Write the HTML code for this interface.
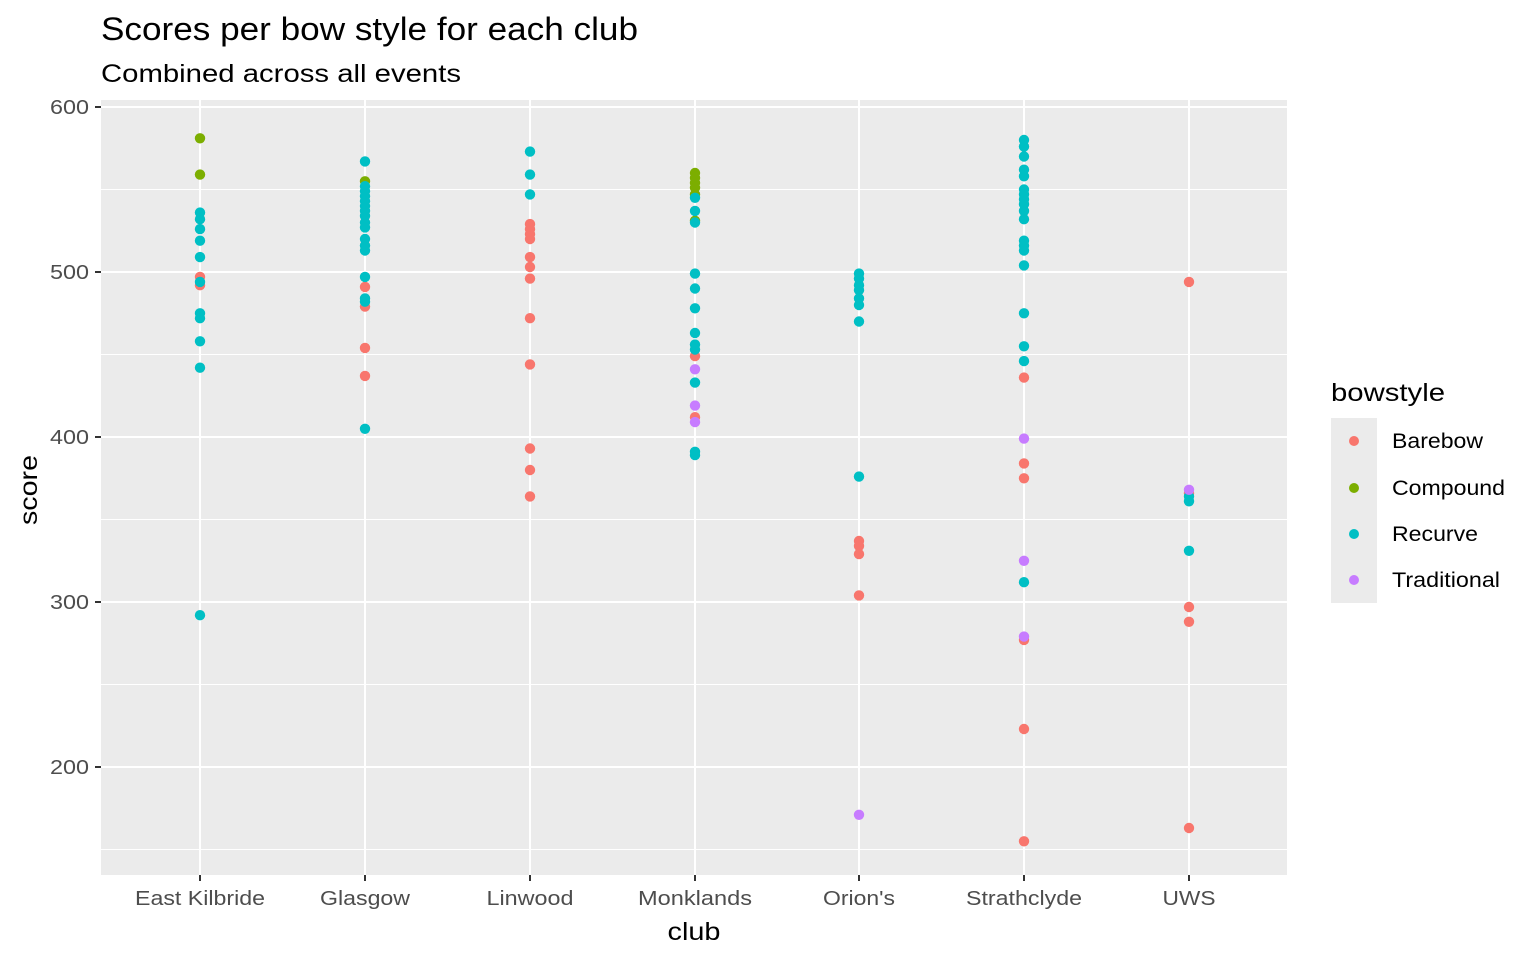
<!DOCTYPE html>
<html><head><meta charset="utf-8"><style>
body{margin:0;background:#fff}
svg{display:block;font-family:"Liberation Sans",Arial,sans-serif}
</style></head><body>
<svg id="s" width="1536" height="960" xmlns="http://www.w3.org/2000/svg">
<rect x="101" y="100" width="1186" height="775" fill="#ebebeb"/>
<g id="grid"></g>
<g id="pts"></g>
<text x="101" y="40" font-size="32" fill="#000" textLength="537" lengthAdjust="spacingAndGlyphs">Scores per bow style for each club</text>
<text x="101" y="82" font-size="25" fill="#000" textLength="360" lengthAdjust="spacingAndGlyphs">Combined across all events</text>
<g font-size="20" fill="#4d4d4d" text-anchor="end">
<text x="89" y="114" textLength="39" lengthAdjust="spacingAndGlyphs">600</text><text x="89" y="279" textLength="39" lengthAdjust="spacingAndGlyphs">500</text><text x="89" y="444" textLength="39" lengthAdjust="spacingAndGlyphs">400</text><text x="89" y="609" textLength="39" lengthAdjust="spacingAndGlyphs">300</text><text x="89" y="774" textLength="39" lengthAdjust="spacingAndGlyphs">200</text>
</g>
<g font-size="20" fill="#4d4d4d" text-anchor="middle">
<text x="200" y="905" textLength="130" lengthAdjust="spacingAndGlyphs">East Kilbride</text><text x="365" y="905" textLength="90" lengthAdjust="spacingAndGlyphs">Glasgow</text><text x="530" y="905" textLength="87" lengthAdjust="spacingAndGlyphs">Linwood</text><text x="695" y="905" textLength="114" lengthAdjust="spacingAndGlyphs">Monklands</text><text x="859" y="905" textLength="72" lengthAdjust="spacingAndGlyphs">Orion's</text><text x="1024" y="905" textLength="116" lengthAdjust="spacingAndGlyphs">Strathclyde</text><text x="1189" y="905" textLength="53" lengthAdjust="spacingAndGlyphs">UWS</text>
</g>
<text x="694" y="940" font-size="25" text-anchor="middle" textLength="53" lengthAdjust="spacingAndGlyphs">club</text>
<text transform="translate(37,490) rotate(-90)" font-size="25" text-anchor="middle" textLength="70" lengthAdjust="spacingAndGlyphs">score</text>
<text x="1331" y="401" font-size="25" textLength="114" lengthAdjust="spacingAndGlyphs">bowstyle</text>
<rect x="1331" y="418" width="46" height="185" fill="#ebebeb"/>
<circle cx="1354" cy="441" r="5" fill="#F8766D"/><circle cx="1354" cy="488" r="5" fill="#7CAE00"/><circle cx="1354" cy="534" r="5" fill="#00BFC4"/><circle cx="1354" cy="580" r="5" fill="#C77CFF"/>
<g font-size="21"><text x="1392" y="448" textLength="91" lengthAdjust="spacingAndGlyphs">Barebow</text><text x="1392" y="495" textLength="113" lengthAdjust="spacingAndGlyphs">Compound</text><text x="1392" y="541" textLength="86" lengthAdjust="spacingAndGlyphs">Recurve</text><text x="1392" y="587" textLength="108" lengthAdjust="spacingAndGlyphs">Traditional</text></g>
</svg>
<script>
function Y(v){return 107+(600-v)*1.65;}
var g=document.getElementById('grid'),h='';
[150,250,350,450,550].forEach(function(v){h+='<line x1="101" x2="1287" y1="'+Y(v)+'" y2="'+Y(v)+'" stroke="#fff" stroke-width="1"/>';});
[200,300,400,500,600].forEach(function(v){h+='<line x1="101" x2="1287" y1="'+Y(v)+'" y2="'+Y(v)+'" stroke="#fff" stroke-width="2"/>';h+='<line x1="95" x2="101" y1="'+Y(v)+'" y2="'+Y(v)+'" stroke="#333" stroke-width="2"/>';});
var X=[200,365,530,695,859,1024,1189];
X.forEach(function(x){h+='<line x1="'+x+'" x2="'+x+'" y1="100" y2="875" stroke="#fff" stroke-width="2"/><line x1="'+x+'" x2="'+x+'" y1="875" y2="881" stroke="#333" stroke-width="2"/>';});
g.innerHTML=h;
var C={B:"#F8766D",C:"#7CAE00",R:"#00BFC4",T:"#C77CFF"};
var D=[
{C:[581,559],R:[536,532,526,519,509,494,475,472,458,442,292],B:[497,492]},
{R:[567,552,549,546,543,540,537,534,530,527,520,516,513,497,484,482,405],C:[555],B:[491,479,454,437]},
{R:[573,559,547],B:[529,526,523,520,509,503,496,472,444,393,380,364]},
{C:[560,557,554,551,547,531],R:[545,537,530,499,490,478,463,456,453,433,391,389],B:[449,412],T:[441,419,409]},
{R:[499,496,492,489,484,480,470,376],B:[337,334,329,304],T:[171]},
{R:[580,576,570,562,558,550,547,544,541,537,532,519,516,513,504,475,455,446,312],B:[436,384,375,277,223,155],T:[399,325,279]},
{B:[494,366,297,288,163],T:[368],R:[364,361,331]}];
var p='';
D.forEach(function(d,i){["B","C","R","T"].forEach(function(k){(d[k]||[]).forEach(function(v){p+='<circle cx="'+X[i]+'" cy="'+Y(v).toFixed(1)+'" r="5.2" fill="'+C[k]+'"/>';});});});
document.getElementById('pts').innerHTML=p;
</script>
</body></html>
